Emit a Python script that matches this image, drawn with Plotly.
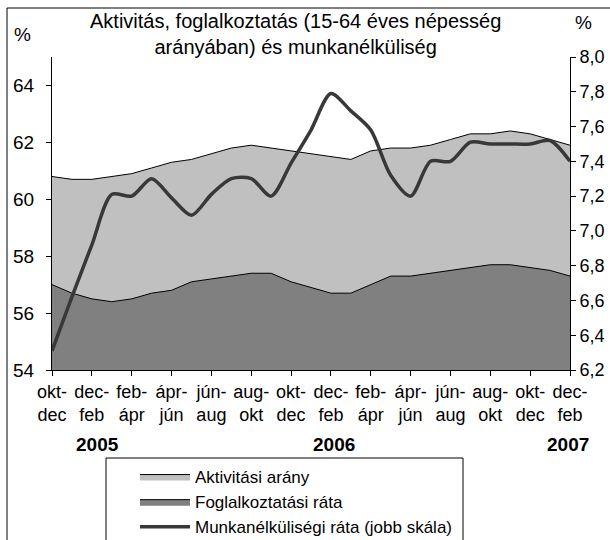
import plotly.graph_objs as go

# 3 havi mozgó átlagok, 2004 okt-dec ... 2007 dec-feb
periods = ['okt-dec', 'nov-jan', 'dec-feb', 'jan-márc', 'feb-ápr', 'márc-máj', 'ápr-jún', 'máj-júl',
           'jún-aug', 'júl-szept', 'aug-okt', 'szept-nov',
           'okt-dec', 'nov-jan', 'dec-feb', 'jan-márc', 'feb-ápr', 'márc-máj', 'ápr-jún', 'máj-júl',
           'jún-aug', 'júl-szept', 'aug-okt', 'szept-nov',
           'okt-dec', 'nov-jan', 'dec-feb']

aktivitas = [60.8, 60.7, 60.7, 60.8, 60.9, 61.1, 61.3, 61.4, 61.6, 61.8, 61.9, 61.8, 61.7, 61.6,
             61.5, 61.4, 61.7, 61.8, 61.8, 61.9, 62.1, 62.3, 62.3, 62.4, 62.3, 62.1, 61.9]
foglalkoztatas = [57.0, 56.7, 56.5, 56.4, 56.5, 56.7, 56.8, 57.1, 57.2, 57.3, 57.4, 57.4, 57.1, 56.9,
                  56.7, 56.7, 57.0, 57.3, 57.3, 57.4, 57.5, 57.6, 57.7, 57.7, 57.6, 57.5, 57.3]
munkanelkuliseg = [6.31, 6.62, 6.92, 7.21, 7.20, 7.30, 7.19, 7.09, 7.21, 7.30, 7.30, 7.20, 7.39, 7.58,
                   7.79, 7.69, 7.58, 7.32, 7.20, 7.40, 7.40, 7.51, 7.50, 7.50, 7.50, 7.52, 7.40]

years = ['2005', '2006', '2007']

x = list(range(len(periods)))
tickvals = x[::2]
ticktext = [p.replace('-', '-<br>') for p in periods[::2]]

FONT = 'Liberation Sans, Arial, sans-serif'

# plot area in pixels: x 52..570, y 57..370
L, R, T, B = 52, 40, 57, 170
W, H = 610, 540
PW, PH = W - L - R, H - T - B


def px(xp):
    return (xp - L) / PW


def py(yp):
    return (T + PH - yp) / PH


trace1 = go.Scatter(x=x, y=aktivitas, name='Aktivitási arány', mode='lines',
                    fill='tozeroy', fillcolor='#c0c0c0', line=dict(color='black', width=1))
trace2 = go.Scatter(x=x, y=foglalkoztatas, name='Foglalkoztatási ráta', mode='lines',
                    fill='tozeroy', fillcolor='#808080', line=dict(color='black', width=1))
trace3 = go.Scatter(x=x, y=munkanelkuliseg, name='Munkanélküliségi ráta (jobb skála)', mode='lines',
                    yaxis='y2', line=dict(color='#383838', width=3.5, shape='spline', smoothing=0.8))

layout = go.Layout(
    width=W, height=H,
    margin=dict(l=L, r=R, t=T, b=B, autoexpand=False),
    paper_bgcolor='white', plot_bgcolor='white',
    font=dict(family=FONT, color='black', size=18),
    separators=', ',
    showlegend=True,
    xaxis=dict(range=[0, len(x) - 1], tickvals=tickvals, ticktext=ticktext, showgrid=False, zeroline=False,
               showline=True, linecolor='black', linewidth=1, ticks='outside', ticklen=5, tickcolor='black',
               tickfont=dict(size=18), tickangle=0, automargin=False),
    yaxis=dict(range=[54, 65], tickvals=[54, 56, 58, 60, 62, 64], showgrid=False, zeroline=False,
               showline=True, linecolor='black', linewidth=1, ticks='outside', ticklen=5, tickcolor='black',
               tickfont=dict(size=19), ticklabelstandoff=8, automargin=False),
    yaxis2=dict(range=[6.2, 8.0], dtick=0.2, tick0=6.2, tickformat='.1f', overlaying='y', side='right',
                showgrid=False, zeroline=False, showline=True, linecolor='black', linewidth=1,
                ticks='outside', ticklen=5, tickcolor='black', tickfont=dict(size=18), automargin=False),
    legend=dict(xref='container', yref='container', x=135 / W, y=1 - 459 / H, xanchor='left', yanchor='top',
                bgcolor='rgba(0,0,0,0)', borderwidth=0, font=dict(size=17), tracegroupgap=0, itemwidth=50),
    shapes=[
        dict(type='rect', xref='paper', yref='paper', x0=px(7), x1=px(650), y0=py(8), y1=py(600),
             line=dict(color='black', width=1), fillcolor='rgba(0,0,0,0)'),
        dict(type='rect', xref='paper', yref='paper', x0=px(106), x1=px(463), y0=py(458), y1=py(600),
             line=dict(color='black', width=1), fillcolor='rgba(0,0,0,0)'),
    ],
    annotations=[
        dict(text='Aktivitás, foglalkoztatás (15-64 éves népesség<br>arányában) és munkanélküliség',
             xref='paper', yref='paper', x=px(295), y=py(34), xanchor='center', yanchor='middle',
             showarrow=False, font=dict(size=20)),
        dict(text='%', xref='paper', yref='paper', x=px(22), y=py(34), xanchor='center', yanchor='middle',
             showarrow=False, font=dict(size=19)),
        dict(text='%', xref='paper', yref='paper', x=px(583), y=py(22), xanchor='center', yanchor='middle',
             showarrow=False, font=dict(size=19)),
    ] + [
        dict(text='<b>%s</b>' % yr, xref='paper', yref='paper', x=px(xc), y=py(444), xanchor='center',
             yanchor='middle', showarrow=False, font=dict(size=19))
        for yr, xc in zip(years, [97, 334, 568])
    ],
)

fig = go.Figure(data=[trace1, trace2, trace3], layout=layout)
# the page body has a default 8px margin; drop it so the figure fills the window
fig.write_html('out.html', config={'displayModeBar': False},
               post_script="document.body.style.margin='0';")
